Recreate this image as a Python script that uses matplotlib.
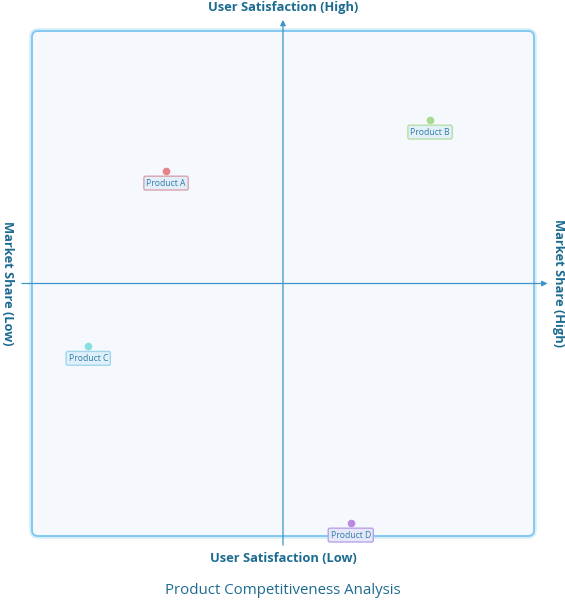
import matplotlib.pyplot as plt
from matplotlib.patches import FancyBboxPatch

# data (x = market share, y = user satisfaction, 0..1)
products = ["Product A", "Product B", "Product C", "Product D"]
share = [0.267, 0.793, 0.112, 0.635]
satisfaction = [0.723, 0.824, 0.376, 0.026]
point_colors = ["#e8838c", "#a8d98c", "#86e0e0", "#b98ae2"]
edge_colors = ["#d9a3ad", "#b5dfa5", "#9fd6ec", "#b9a3e6"]
face_colors = ["#e3eef9", "#e3f0f7", "#dff0fa", "#e6e8fa"]

title = "Product Competitiveness Analysis"
x_low, x_high = "Market Share (Low)", "Market Share (High)"
y_low, y_high = "User Satisfaction (Low)", "User Satisfaction (High)"

text_col = "#1c6b90"
axis_col = "#3d94c8"

plt.rcParams['font.family'] = ['Open Sans', 'DejaVu Sans']

fig = plt.figure(figsize=(5.65, 6), dpi=100)
W, H = 565, 600
ax = fig.add_axes([32 / W, (H - 536) / H, 502 / W, 505 / H])
ax.set_xlim(0, 1)
ax.set_ylim(0, 1)
ax.axis("off")

# quadrant background
glow = FancyBboxPatch((0, 0), 1, 1, boxstyle="round,pad=0,rounding_size=0.012",
                      transform=ax.transAxes, facecolor="none",
                      edgecolor="#d8ecfa", lw=4, clip_on=False, zorder=0)
ax.add_patch(glow)
box = FancyBboxPatch((0, 0), 1, 1, boxstyle="round,pad=0,rounding_size=0.012",
                     transform=ax.transAxes, facecolor="#f5f9fd",
                     edgecolor="#7cc6f0", lw=1.3, clip_on=False, zorder=1)
ax.add_patch(box)

# quadrant axes with arrows
ax.annotate("", xy=(0.5, 1.022), xytext=(0.5, -0.018), xycoords="axes fraction",
            arrowprops=dict(arrowstyle="-|>", color=axis_col, lw=0.9,
                            mutation_scale=8, shrinkA=0, shrinkB=0), zorder=2)
ax.annotate("", xy=(1.027, 0.5), xytext=(-0.02, 0.5), xycoords="axes fraction",
            arrowprops=dict(arrowstyle="-|>", color=axis_col, lw=0.9,
                            mutation_scale=8, shrinkA=0, shrinkB=0), zorder=2)

# points and labels
for name, x, y, pc, ec, fc in zip(products, share, satisfaction,
                                  point_colors, edge_colors, face_colors):
    ax.scatter([x], [y], s=20, color=pc, zorder=4, clip_on=False)
    ax.annotate(name, (x, y), xytext=(0, -8.8), textcoords="offset points",
                ha="center", va="center", fontsize=6.2, color="#2d7ea8",
                bbox=dict(boxstyle="round,pad=0.28,rounding_size=0.2",
                          fc=fc, ec=ec, lw=1.0), zorder=5)

# axis labels
fig.text(283 / W, 1 - 8 / H, y_high, ha="center", va="center",
         fontsize=9.3, fontweight="bold", color=text_col)
fig.text(283 / W, 1 - 559 / H, y_low, ha="center", va="center",
         fontsize=9.3, fontweight="bold", color=text_col)
fig.text(7 / W, 1 - 283 / H, x_low, ha="center", va="center", rotation=-90,
         fontsize=9.3, fontweight="bold", color=text_col)
fig.text(558 / W, 1 - 283 / H, x_high, ha="center", va="center", rotation=-90,
         fontsize=9.3, fontweight="bold", color=text_col)

fig.text(283 / W, 1 - 591 / H, title, ha="center", va="center",
         fontsize=10.8, color=text_col)

fig.savefig("out.png", dpi=100)
